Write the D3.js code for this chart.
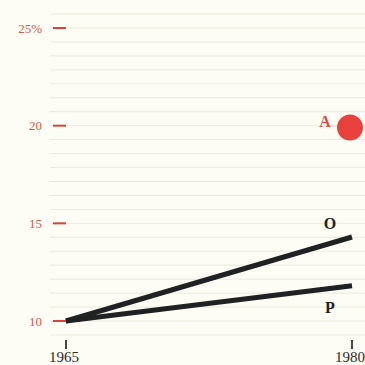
<!DOCTYPE html>
<html><head><meta charset="utf-8">
<script src="https://cdn.jsdelivr.net/npm/d3@7"></script>
<style>html,body{margin:0;padding:0;background:#fdfdf6;}svg{display:block;}</style>
</head><body>
<script>
const years = [1965, 1980];
const seriesO = [10, 14.3];
const seriesP = [10, 11.8];
const pointA = {year: 1980, value: 19.9, label: "A"};
const yTicks = [10, 15, 20, 25];
const yTickLabels = ["10", "15", "20", "25%"];
const xTickLabels = ["1965", "1980"];

const W = 365, H = 365;
const svg = d3.select("body").append("svg").attr("width", W).attr("height", H);
svg.append("rect").attr("width", W).attr("height", H).attr("fill", "#fdfdf6");

const x = d3.scaleLinear().domain([1965, 1980]).range([66, 352]);
const y = d3.scaleLinear().domain([10, 25]).range([321, 28]);

// faint ruled gridlines
const grid = d3.range(0, 24).map(i => 10 - 5/7 + i * 5/7);
svg.append("g").selectAll("line").data(grid).join("line")
  .attr("x1", 50).attr("x2", W)
  .attr("y1", d => y(d)).attr("y2", d => y(d))
  .attr("stroke", "#ebe9da").attr("stroke-width", 1);

// y ticks
const serif = "'Liberation Serif', 'DejaVu Serif', serif";
const yg = svg.append("g");
yg.selectAll("line").data(yTicks).join("line")
  .attr("x1", 53).attr("x2", 66)
  .attr("y1", d => y(d)).attr("y2", d => y(d))
  .attr("stroke", "#d9443a").attr("stroke-width", 2);
yg.selectAll("text").data(yTicks).join("text")
  .attr("x", 42).attr("y", d => y(d) + 4.5)
  .attr("text-anchor", "end")
  .attr("font-family", serif).attr("font-size", 13)
  .attr("fill", "#e0574c")
  .text((d, i) => yTickLabels[i]);

// x ticks
const xg = svg.append("g");
xg.selectAll("line").data(years).join("line")
  .attr("x1", d => x(d)).attr("x2", d => x(d))
  .attr("y1", 340).attr("y2", 349)
  .attr("stroke", "#333").attr("stroke-width", 1.8);
xg.selectAll("text").data(years).join("text")
  .attr("x", d => x(d) - 2).attr("y", 362)
  .attr("text-anchor", "middle")
  .attr("font-family", serif).attr("font-size", 15)
  .attr("fill", "#2a2a2a")
  .text((d, i) => xTickLabels[i]);

// lines
const line = d3.line().x((d, i) => x(years[i])).y(d => y(d));
[seriesO, seriesP].forEach(s => {
  svg.append("path").attr("d", line(s))
    .attr("fill", "none").attr("stroke", "#1f2122").attr("stroke-width", 5);
});
svg.append("text").attr("x", x(1980) - 22).attr("y", y(seriesO[1]) - 8)
  .attr("text-anchor", "middle").attr("font-family", serif).attr("font-weight", "bold")
  .attr("font-size", 16).attr("fill", "#222").text("O");
svg.append("text").attr("x", x(1980) - 22).attr("y", y(seriesP[1]) + 27)
  .attr("text-anchor", "middle").attr("font-family", serif).attr("font-weight", "bold")
  .attr("font-size", 16).attr("fill", "#222").text("P");

// point A
svg.append("circle").attr("cx", x(pointA.year) - 2).attr("cy", y(pointA.value))
  .attr("r", 13).attr("fill", "#e8403a");
svg.append("text").attr("x", x(pointA.year) - 27).attr("y", y(pointA.value) - 1)
  .attr("text-anchor", "middle").attr("font-family", serif).attr("font-weight", "bold")
  .attr("font-size", 16).attr("fill", "#e04a42").text(pointA.label);
</script>
</body></html>
